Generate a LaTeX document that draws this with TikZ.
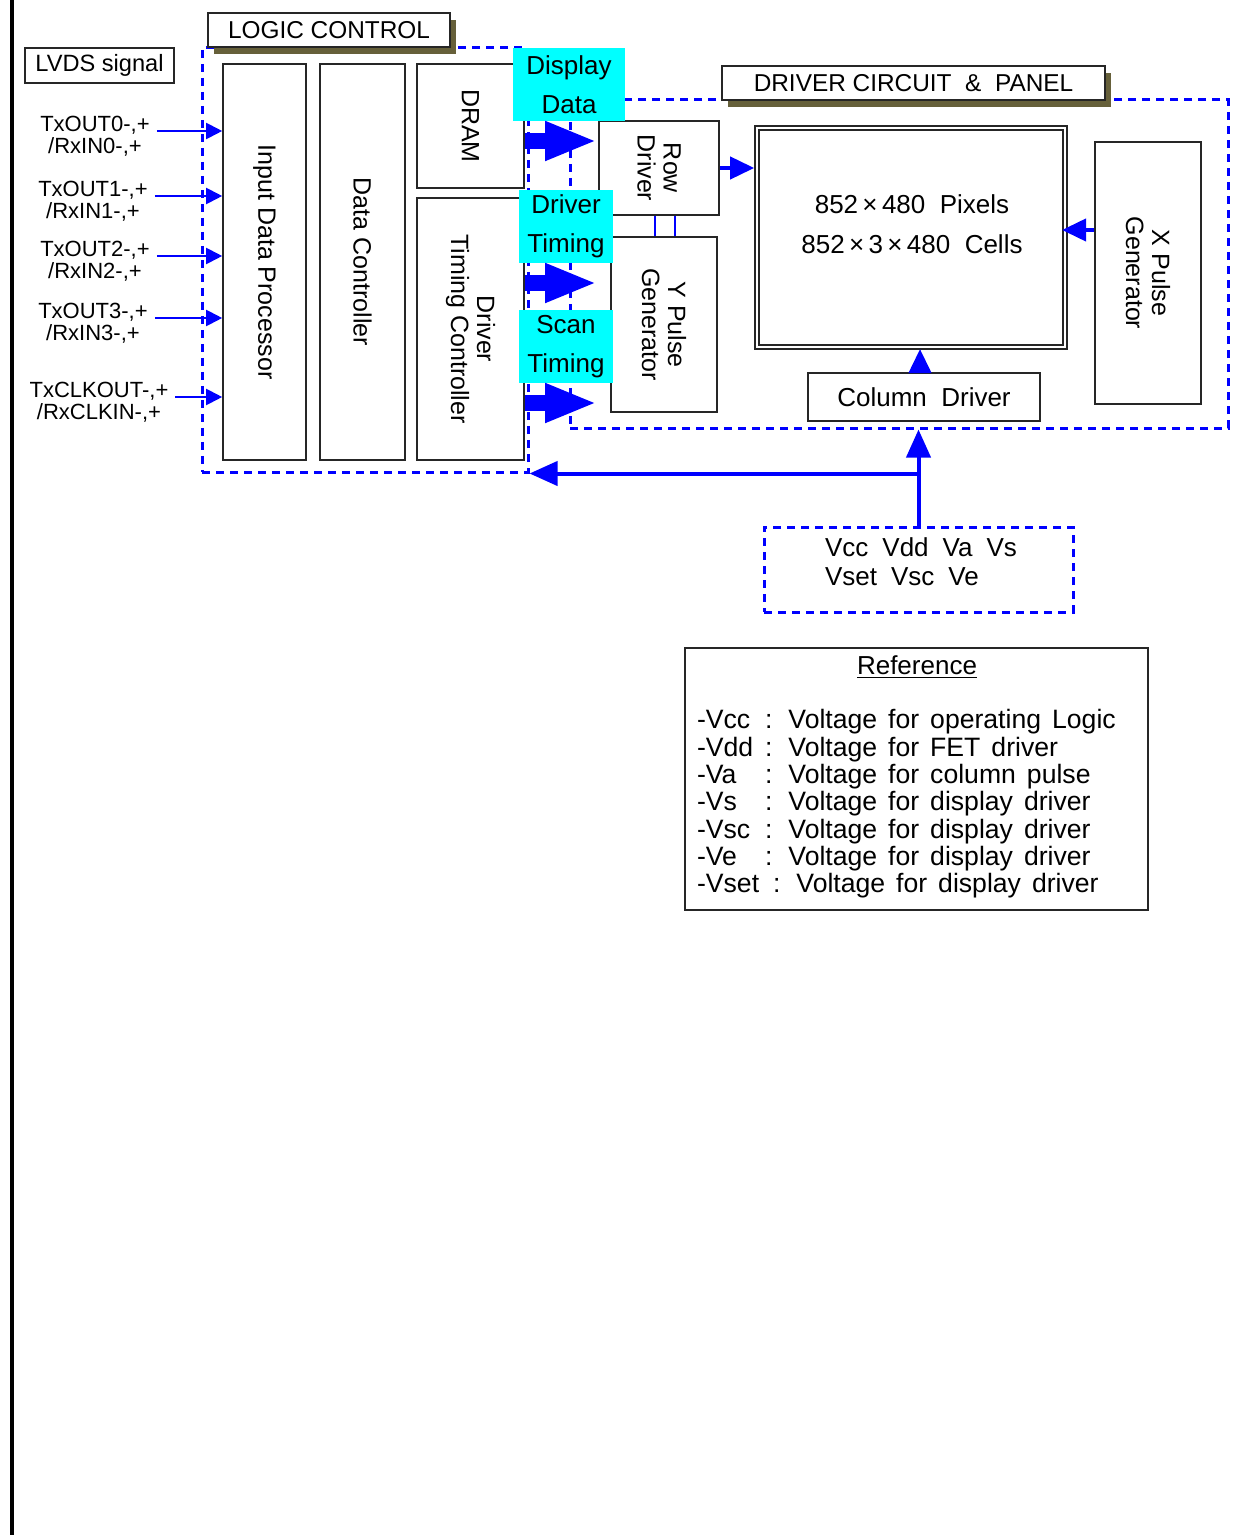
\documentclass[tikz,border=0pt]{standalone}
\usepackage{fontspec}
\setmainfont{Liberation Sans}
\usetikzlibrary{arrows.meta,fit,shadows}

\definecolor{sigblue}{RGB}{0,0,255}
\definecolor{tagcyan}{RGB}{0,255,255}
\definecolor{shadowol}{RGB}{102,96,58}

\newcommand{\refrow}[3][29pt]{\makebox[#1][l]{-#2}\hspace{5pt}:\hspace{8pt}#3}
\newcommand{\widegap}[1]{\spaceskip=#1 plus 1pt\relax}

\tikzset{
  box/.style={draw=black!85, line width=0.8pt, inner sep=0pt},
  boxline/.style={draw=black!85, line width=0.8pt},
  frame/.style={draw=sigblue, line width=1.5pt, dash pattern=on 4pt off 3pt, inner sep=0pt},
  tag/.style={fill=tagcyan, inner sep=0pt},
  tagtext/.style={align=center, font=\fontsize{13}{19.5}\selectfont},
  title/.style={draw=black!85, line width=0.8pt, fill=white, inner sep=0pt,
    drop shadow={shadow xshift=3pt, shadow yshift=-3.3pt, fill=shadowol, opacity=1}},
  titletext/.style={font=\fontsize{12.2}{14}\selectfont},
  vert/.style={rotate=-90, align=center, font=\fontsize{12.5}{13}\selectfont},
  inlabel/.style={align=center, font=\fontsize{11}{11}\selectfont},
  wide/.style={font=\fontsize{13.3}{13.65}\selectfont\widegap{5.5pt}},
  sig/.style={draw=sigblue, line width=1pt, -{Triangle[length=8pt,width=8pt]}},
  flow/.style={draw=sigblue, line width=8pt, -{Triangle[length=26pt,width=18pt]}},
  link/.style={draw=sigblue, line width=2pt, -{Triangle[length=12pt,width=11pt]}},
  pwr/.style={draw=sigblue, line width=2pt, -{Triangle[length=14pt,width=12pt]}},
}

\begin{document}
\begin{tikzpicture}[x=0.5pt, y=-0.5pt, font=\fontsize{12.5}{14}\selectfont]
\useasboundingbox (0,0) rectangle (1240,1535);

% page rule
\draw[line width=2pt] (12,0) -- (12,1535);

% dashed groups
\node[frame, fit={(202,48)(528,472)}] (logframe) {};
\node[frame, fit={(570,100)(1228,428)}] (drvframe) {};

% titles
\node[title, fit={(208,13)(450,47)}] (logtitle) {};
\node[titletext] at (logtitle.center) {LOGIC CONTROL};
\node[title, fit={(722,66)(1105,100)}] (drvtitle) {};
\node[titletext] at (drvtitle.center) {DRIVER CIRCUIT \ \& \ PANEL};
\node[box, fit={(25,48)(174,83)}] (lvds) {};
\node[font=\fontsize{11.8}{14}\selectfont] at (lvds.center) {LVDS signal};

% logic control
\node[box, fit={(223,64)(306,460)}] (idp) {};
\node[vert] at (idp.center) {Input Data Processor};
\node[box, fit={(320,64)(405,460)}] (dctl) {};
\node[vert] at (dctl.center) {Data Controller};
\node[box, fit={(417,64)(524,188)}] (dram) {};
\node[vert] at (dram.center) {DRAM};
\node[box, fit={(417,198)(524,460)}] (dtc) {};
\node[vert] at (dtc.center) {Driver\\Timing Controller};

% driver circuit & panel
\node[box, fit={(599,121)(719,215)}] (rowdrv) {};
\node[vert] at (rowdrv.center) {Row\\Driver};
\node[box, fit={(611,237)(717,412)}] (ypg) {};
\node[vert] at (ypg.center) {Y Pulse\\Generator};
\node[box, fit={(755,126)(1067,349)}] (panel) {};
\draw[boxline] ([shift={(2.5pt,-2.5pt)}]panel.north west) rectangle ([shift={(-2.5pt,2.5pt)}]panel.south east);
\node[align=center, font=\fontsize{13}{20}\selectfont] (paneltxt) at (912,224) {852\,×\,480 \ Pixels\\852\,×\,3\,×\,480 \ Cells};
\node[box, fit={(1095,142)(1201,404)}] (xpg) {};
\node[vert] at (xpg.center) {X Pulse\\Generator};
\node[box, fit={(808,373)(1040,421)}] (coldrv) {};
\node[font=\fontsize{13}{14}\selectfont] at (coldrv.center) {Column \ Driver};

\draw[sigblue, line width=0.8pt] ([xshift=-2pt]rowdrv.south) -- ([xshift=-2pt]rowdrv.south |- ypg.north);
\draw[sigblue, line width=0.8pt] ([xshift=8pt]rowdrv.south) -- ([xshift=8pt]rowdrv.south |- ypg.north);

% signal tags
\node[tag, fit={(513,48)(625,121)}] (dispdata) {};
\node[tagtext] at (dispdata.center) {Display\\Data};
\node[tag, fit={(519,190)(613,263)}] (drvtiming) {};
\node[tagtext] at (drvtiming.center) {Driver\\Timing};
\node[tag, fit={(519,310)(613,383)}] (scantiming) {};
\node[tagtext] at (scantiming.center) {Scan\\Timing};

% supplies
\node[frame, fit={(764,527)(1073,612)}] (vbox) {};
\node[anchor=west, align=left, font=\fontsize{13}{14.5}\selectfont\widegap{7pt}] (vlist) at (818,562) {Vcc Vdd Va Vs\\Vset Vsc Ve};

\node[box, fit={(685,648)(1148,910)}] (refbox) {};
\node[font=\fontsize{13}{14}\selectfont] (reftitle) at (917,667) {\underline{Reference}};
\node[anchor=west, align=left, wide] (reflist) at (690,804) {%
\refrow{Vcc}{Voltage for operating Logic}\\
\refrow{Vdd}{Voltage for FET driver}\\
\refrow{Va}{Voltage for column pulse}\\
\refrow{Vs}{Voltage for display driver}\\
\refrow{Vsc}{Voltage for display driver}\\
\refrow{Ve}{Voltage for display driver}\\
\refrow[33pt]{Vset}{Voltage for display driver}};

% LVDS inputs
\node[inlabel] (in0) at (95,136) {TxOUT0-,+\\/RxIN0-,+};
\node[inlabel] (in1) at (93,201) {TxOUT1-,+\\/RxIN1-,+};
\node[inlabel] (in2) at (95,261) {TxOUT2-,+\\/RxIN2-,+};
\node[inlabel] (in3) at (93,323) {TxOUT3-,+\\/RxIN3-,+};
\node[inlabel] (clk) at (99,402) {TxCLKOUT-,+\\/RxCLKIN-,+};
\foreach \n in {in0,in1,in2,in3,clk}
  \draw[sig] ([yshift=2.5pt]\n.east) -- ([yshift=2.5pt]\n.east -| idp.west);

% data flow
\coordinate (ddtip) at (597,141);
\coordinate (dttip) at (597,283);
\coordinate (sttip) at (597,403);
\draw[flow] (dram.east |- ddtip) -- (ddtip);
\draw[flow] (dtc.east |- dttip) -- (dttip);
\draw[flow] (dtc.east |- sttip) -- (sttip);

\coordinate (xin) at (1062,230);
\coordinate (colin) at (920,349);
\draw[link] (rowdrv.east) -- (rowdrv.east -| panel.west);
\draw[link] (xpg.west |- xin) -- (xin);
\draw[link] (coldrv.north -| colin) -- (colin);

\draw[pwr] (vbox.north) -- (vbox.north |- drvframe.south);
\draw[pwr] (vbox.north |- logframe.south) -- (logframe.south east);
\end{tikzpicture}
\end{document}
